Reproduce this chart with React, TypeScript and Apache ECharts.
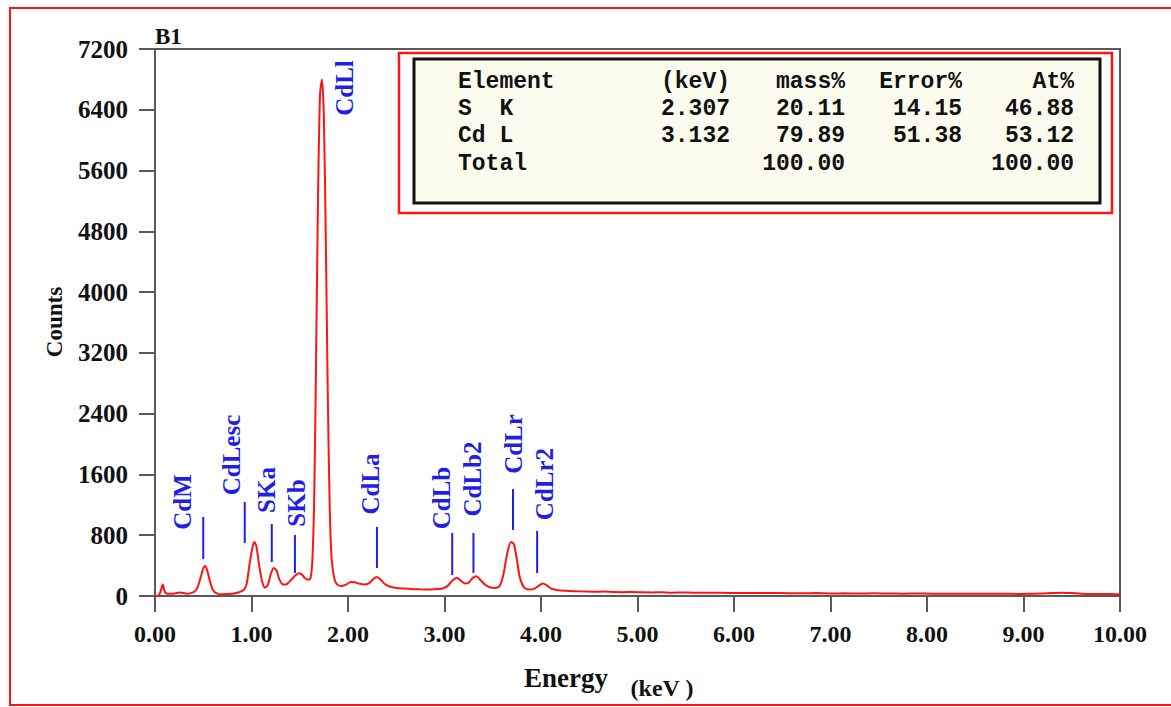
import React, { useEffect, useRef } from "react";
import * as echarts from "echarts";

// EDS spectrum of sample B1: energy (keV) and detector counts
const energyKeV = [
  0.0, 0.04, 0.06, 0.08, 0.1, 0.13, 0.17, 0.21, 0.25, 0.29, 0.33, 0.37, 0.41, 0.44, 0.47, 0.5, 0.52, 0.54,
  0.57, 0.6, 0.64, 0.69, 0.74, 0.79, 0.84, 0.88, 0.92, 0.95, 0.98, 1.01, 1.03, 1.05, 1.08, 1.11, 1.14, 1.17,
  1.2, 1.23, 1.26, 1.29, 1.33, 1.37, 1.41, 1.45, 1.49, 1.52, 1.55, 1.58, 1.61, 1.63, 1.65, 1.67, 1.69, 1.71,
  1.73, 1.75, 1.77, 1.79, 1.81, 1.83, 1.86, 1.89, 1.93, 1.98, 2.03, 2.07, 2.12, 2.17, 2.22, 2.26, 2.3, 2.34,
  2.38, 2.43, 2.5, 2.58, 2.66, 2.74, 2.82, 2.9, 2.97, 3.03, 3.08, 3.13, 3.17, 3.21, 3.25, 3.29, 3.33, 3.37,
  3.42, 3.47, 3.52, 3.57, 3.61, 3.65, 3.69, 3.72, 3.75, 3.78, 3.82, 3.87, 3.92, 3.97, 4.02, 4.06, 4.11, 4.18,
  4.26, 4.35, 4.45, 4.55, 4.65, 4.75, 4.85, 4.95, 5.05, 5.15, 5.25, 5.35, 5.5, 5.65, 5.8, 5.95, 6.1, 6.25,
  6.4, 6.55, 6.7, 6.85, 7.0, 7.15, 7.3, 7.45, 7.6, 7.75, 7.9, 8.05, 8.2, 8.35, 8.5, 8.65, 8.8, 8.95, 9.1,
  9.2, 9.3, 9.4, 9.5, 9.6, 9.7, 9.8, 9.9, 10.0,
];
const counts = [
  0, 10, 70, 150, 60, 30, 28, 35, 45, 40, 30, 38, 60, 110, 230, 365, 395, 340,
  190, 80, 35, 22, 25, 30, 40, 55, 80, 160, 420, 640, 710, 660, 400, 190, 110, 150,
  290, 370, 335, 215, 150, 160, 210, 265, 300, 285, 240, 215, 230, 450, 1300, 3200, 5300, 6600,
  6800, 6300, 4700, 2700, 1200, 500, 220, 150, 130, 150, 185, 180, 160, 150, 170, 220, 250, 215,
  160, 125, 105, 98, 92, 88, 86, 90, 95, 130, 200, 240, 200, 165, 175, 235, 260, 215,
  150, 115, 105, 130, 280, 560, 710, 680, 480, 250, 120, 85, 90, 130, 165, 140, 95, 75,
  68, 62, 60, 55, 58, 52, 50, 54, 48, 47, 50, 44, 45, 42, 44, 40, 41, 38,
  40, 37, 36, 38, 34, 35, 33, 36, 32, 31, 33, 30, 31, 29, 30, 28, 30, 27, 28,
  34, 40, 44, 38, 30, 27, 25, 26, 22,
];

// Characteristic line markers
const peakNames = ["CdM", "CdLesc", "SKa", "SKb", "CdLl", "CdLa", "CdLb", "CdLb2", "CdLr", "CdLr2"];
const peakLineKeV = [0.5, 0.93, 1.21, 1.45, null, 2.3, 3.08, 3.3, 3.71, 3.96];
const peakLineLow = [487, 698, 448, 303, null, 369, 276, 303, 869, 303];
const peakLineHigh = [1040, 1237, 948, 803, null, 908, 829, 829, 1408, 856];
const peakLabelKeV = [0.28, 0.79, 1.16, 1.47, 1.96, 2.23, 2.97, 3.29, 3.71, 4.04];
const peakLabelCounts = [1237, 1856, 1395, 1224, 6687, 1474, 1290, 1540, 2001, 1474];

// Quantification table
const tableHeader = ["Element", "(keV)", "mass%", "Error%", "At%"];
const tableRows = [
  ["S  K", "2.307", "20.11", "14.15", "46.88"],
  ["Cd L", "3.132", "79.89", "51.38", "53.12"],
  ["Total", "", "100.00", "", "100.00"],
];

const xTicks = [0, 1, 2, 3, 4, 5, 6, 7, 8, 9, 10];
const yMax = 7200;
const yStep = 800;

const BLUE = "#1f1fe8";
const RED = "#ff1414";
const AXIS = "#5a5a5a";
const SERIF = '"Liberation Serif", "DejaVu Serif", serif';
const MONO = '"Liberation Mono", "DejaVu Sans Mono", monospace';

export default function App() {
  const ref = useRef<HTMLDivElement>(null);

  useEffect(() => {
    if (!ref.current) return;
    const chart = echarts.init(ref.current, undefined, { renderer: "svg" });

    const colRight = [0, 730, 845, 962, 1074];
    const rowY = [82, 109, 136, 164];
    const tableTexts: any[] = [];
    [tableHeader, ...tableRows].forEach((row, r) => {
      row.forEach((cell, c) => {
        if (!cell) return;
        tableTexts.push({
          type: "text",
          x: c === 0 ? 458 : colRight[c],
          y: rowY[r],
          style: {
            text: cell,
            font: `bold 23px ${MONO}`,
            fill: "#111",
            align: c === 0 ? "left" : "right",
            textAlign: c === 0 ? "left" : "right",
            verticalAlign: "middle",
            textVerticalAlign: "middle",
          },
          z: 20,
        });
      });
    });

    chart.setOption({
      animation: false,
      backgroundColor: "#ffffff",
      grid: {
        left: 155,
        top: 49,
        width: 965,
        height: 547,
        show: true,
        borderColor: AXIS,
        borderWidth: 2,
        backgroundColor: "transparent",
      },
      xAxis: {
        type: "value",
        min: xTicks[0],
        max: xTicks[xTicks.length - 1],
        interval: 1,
        axisLine: { show: true, lineStyle: { color: AXIS, width: 2 } },
        axisTick: { show: true, length: 16, lineStyle: { color: AXIS, width: 2 } },
        splitLine: { show: false },
        axisLabel: {
          formatter: (v: number) => v.toFixed(2),
          fontFamily: SERIF,
          fontWeight: "bold",
          fontSize: 24,
          color: "#111",
          margin: 26,
        },
      },
      yAxis: {
        type: "value",
        min: 0,
        max: yMax,
        interval: yStep,
        axisLine: { show: true, lineStyle: { color: AXIS, width: 2 } },
        axisTick: { show: true, length: 16, lineStyle: { color: AXIS, width: 2 } },
        splitLine: { show: false },
        axisLabel: {
          formatter: (v: number) => String(v),
          fontFamily: SERIF,
          fontWeight: "bold",
          fontSize: 25,
          color: "#111",
          margin: 27,
        },
      },
      series: [
        {
          type: "line",
          data: energyKeV.map((e, i) => [e, counts[i]]),
          showSymbol: false,
          smooth: 0.25,
          lineStyle: { color: RED, width: 2 },
          z: 3,
          silent: true,
        },
        {
          type: "custom",
          data: peakNames.map((_, i) => [peakLabelKeV[i], peakLabelCounts[i]]),
          clip: false,
          silent: true,
          z: 5,
          renderItem: (params: any, api: any) => {
            const i = params.dataIndex;
            const children: any[] = [];
            if (peakLineKeV[i] != null) {
              const p1 = api.coord([peakLineKeV[i], peakLineLow[i]]);
              const p2 = api.coord([peakLineKeV[i], peakLineHigh[i]]);
              children.push({
                type: "line",
                shape: { x1: p1[0], y1: p1[1], x2: p2[0], y2: p2[1] },
                style: { stroke: BLUE, lineWidth: 2 },
              });
            }
            const c = api.coord([api.value(0), api.value(1)]);
            children.push({
              type: "text",
              x: c[0],
              y: c[1],
              rotation: Math.PI / 2,
              style: {
                text: peakNames[i],
                fill: BLUE,
                font: `bold 25px ${SERIF}`,
                align: "center",
                textAlign: "center",
                verticalAlign: "middle",
                textVerticalAlign: "middle",
              },
            });
            return { type: "group", children };
          },
        },
      ],
      graphic: [
        {
          type: "rect",
          shape: { x: 10, y: 8, width: 1175, height: 697 },
          style: { fill: "none", stroke: RED, lineWidth: 2 },
          z: 1,
        },
        {
          type: "rect",
          shape: { x: 399, y: 53, width: 713, height: 160 },
          style: { fill: "#ffffff", stroke: RED, lineWidth: 2.5 },
          z: 10,
        },
        {
          type: "rect",
          shape: { x: 414, y: 59, width: 686, height: 144 },
          style: { fill: "#fcfcee", stroke: "#111", lineWidth: 3 },
          z: 11,
        },
        ...tableTexts,
        {
          type: "text",
          x: 155,
          y: 36,
          style: {
            text: "B1",
            font: `bold 23px ${SERIF}`,
            fill: "#111",
            align: "left",
            textAlign: "left",
            verticalAlign: "middle",
            textVerticalAlign: "middle",
          },
        },
        {
          type: "text",
          x: 566,
          y: 678,
          style: {
            text: "Energy",
            font: `bold 27px ${SERIF}`,
            fill: "#111",
            align: "center",
            textAlign: "center",
            verticalAlign: "middle",
            textVerticalAlign: "middle",
          },
        },
        {
          type: "text",
          x: 662,
          y: 688,
          style: {
            text: "(keV )",
            font: `bold 24px ${SERIF}`,
            fill: "#111",
            align: "center",
            textAlign: "center",
            verticalAlign: "middle",
            textVerticalAlign: "middle",
          },
        },
        {
          type: "text",
          x: 54,
          y: 322,
          rotation: Math.PI / 2,
          style: {
            text: "Counts",
            font: `bold 23px ${SERIF}`,
            fill: "#111",
            align: "center",
            textAlign: "center",
            verticalAlign: "middle",
            textVerticalAlign: "middle",
          },
        },
      ],
    });

    return () => chart.dispose();
  }, []);

  return (
    <div
      ref={ref}
      style={{ position: "fixed", left: 0, top: 0, width: 1171, height: 707, background: "#fff" }}
    />
  );
}
